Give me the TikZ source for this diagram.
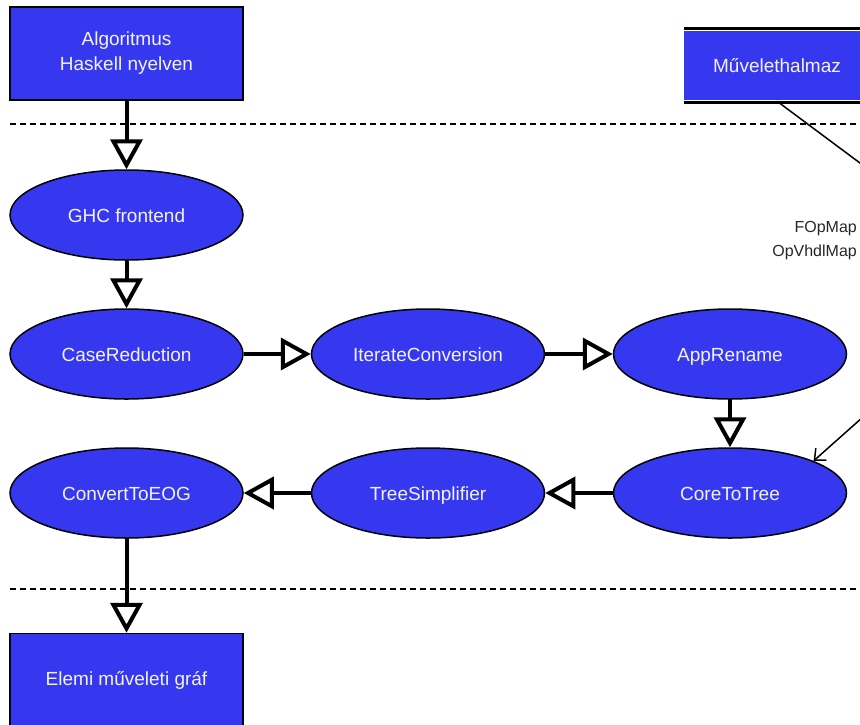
\documentclass[tikz,border=0pt]{standalone}
\usepackage{fontspec}
\setmainfont{Liberation Sans}
\usetikzlibrary{arrows.meta,shapes.geometric}
\definecolor{nodeblue}{RGB}{54,56,240}
\definecolor{nodetext}{RGB}{242,242,255}
\begin{document}
\begin{tikzpicture}[x=1pt,y=-1pt,
  proc/.style={ellipse,draw=black,line width=1.5pt,fill=nodeblue,text=nodetext,
    minimum width=233pt,minimum height=90pt,inner sep=0pt,text height=14pt,text depth=0pt,
    font=\fontsize{19}{25}\selectfont},
  ext/.style={rectangle,draw=black,line width=1.5pt,fill=nodeblue,text=nodetext,
    minimum width=233pt,minimum height=93pt,inner sep=0pt,align=center,font=\fontsize{19}{25}\selectfont},
  store/.style={rectangle,fill=nodeblue,text=nodetext,minimum width=186pt,minimum height=69pt,
    inner sep=0pt,font=\fontsize{19}{25}\selectfont},
  storeline/.style={line width=2.5pt},
  flow/.style={line width=4pt,-{Triangle[open,length=30pt,width=32pt]}},
  link/.style={line width=1.5pt,-{Straight Barb[length=9pt,width=16pt]}},
  sep/.style={dash pattern=on 6pt off 4pt,line width=2pt},
  lbl/.style={anchor=base east,inner sep=0pt,text=black!85,font=\fontsize{16}{18}\selectfont}
]
\useasboundingbox (0,0) rectangle (860,724);
\clip (0,0) rectangle (860,724);

% separators
\draw[sep] (10,124) -- (860,124);
\draw[sep] (10,589) -- (860,589);

% nodes
\node[ext]  (alg) at (126.5,53.5) {Algoritmus\\Haskell nyelven};
\node[proc] (ghc) at (126.5,215) {GHC frontend};
\node[proc] (cr)  at (126.5,354) {CaseReduction};
\node[proc] (ic)  at (428,354) {IterateConversion};
\node[proc] (ar)  at (730,354) {AppRename};
\node[proc] (ct)  at (730,493) {CoreToTree};
\node[proc] (ts)  at (428,493) {TreeSimplifier};
\node[proc] (eog) at (126.5,493) {ConvertToEOG};
\node[ext]  (emg) at (126.5,680) {Elemi műveleti gráf};

% data store
\node[store] (mh) at (777,65.5) {Művelethalmaz};
\draw[storeline] ([yshift=2.5pt]mh.north west) -- ([yshift=2.5pt]mh.north east);
\draw[storeline] ([yshift=-2.5pt]mh.south west) -- ([yshift=-2.5pt]mh.south east);

% flow arrows
\draw[flow] (alg) -- (ghc);
\draw[flow] (ghc) -- (cr);
\draw[flow] (cr) -- (ic);
\draw[flow] (ic) -- (ar);
\draw[flow] (ar) -- (ct);
\draw[flow] (ct) -- (ts);
\draw[flow] (ts) -- (eog);
\draw[flow] (eog) -- (emg);

% link from store
\coordinate (bend) at (1017,280);
\draw[link] ([yshift=-1pt]mh.south) -- (bend) -- (ct.21);
\node[lbl] (l1) at (857,232) {FOpMap};
\node[lbl] (l2) at (857,256) {OpVhdlMap};
\end{tikzpicture}
\end{document}
